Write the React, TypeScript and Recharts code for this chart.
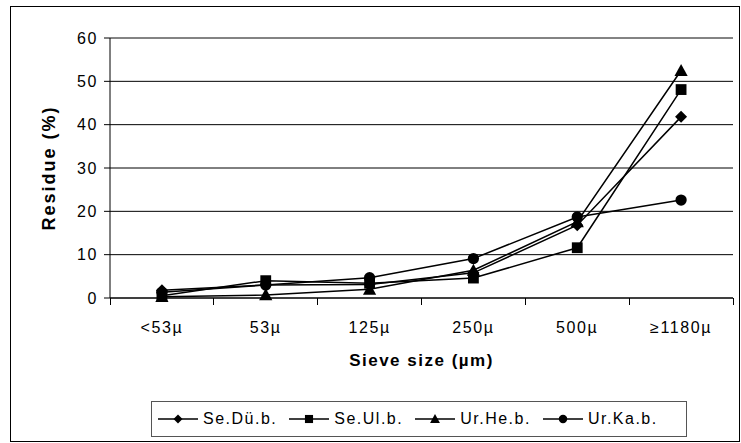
import React from 'react';
import {
    LineChart,
    Line,
    XAxis,
    YAxis,
    CartesianGrid,
    Legend,
    ReferenceLine
} from 'recharts';

const categories = ['<53µ', '53µ', '125µ', '250µ', '500µ', '≥1180µ'];
const seDub = [1.8, 3.0, 3.1, 5.8, 16.8, 41.8];
const seUlb = [0.5, 4.0, 3.4, 4.6, 11.6, 48.1];
const urHeb = [0.3, 0.7, 2.0, 6.4, 17.6, 52.5];
const urKab = [1.3, 3.0, 4.7, 9.1, 18.7, 22.6];
const yTicks = [0, 10, 20, 30, 40, 50, 60];

const seriesNames = ['Se.Dü.b.', 'Se.Ul.b.', 'Ur.He.b.', 'Ur.Ka.b.'];
const seriesValues = [seDub, seUlb, urHeb, urKab];
const seriesMarkers = ['diamond', 'square', 'triangle', 'circle'];

const data = categories.map((c, i) => {
    const row: Record<string, string | number> = { size: c };
    seriesNames.forEach((name, s) => {
        row[name] = seriesValues[s][i];
    });
    return row;
});

const FONT = '"Liberation Sans", Arial, sans-serif';
const PLOT_W = 741 - 110 - 8;

function marker(kind: string, cx: number, cy: number, s: number, key?: string | number) {
    if (kind === 'diamond') {
        return <path key={key} d={`M${cx},${cy - s * 0.5}L${cx + s * 0.5},${cy}L${cx},${cy + s * 0.5}L${cx - s * 0.5},${cy}Z`} fill="#000" />;
    }
    if (kind === 'square') {
        const h = s * 0.45;
        return <rect key={key} x={cx - h} y={cy - h} width={h * 2} height={h * 2} fill="#000" />;
    }
    if (kind === 'triangle') {
        return <path key={key} d={`M${cx},${cy - s * 0.55}L${cx + s * 0.55},${cy + s * 0.45}L${cx - s * 0.55},${cy + s * 0.45}Z`} fill="#000" />;
    }
    return <circle key={key} cx={cx} cy={cy} r={s * 0.47} fill="#000" />;
}

const makeDot = (kind: string) => (props: any) => {
    const { cx, cy, index } = props;
    if (cx == null || cy == null) return <g key={index} />;
    return marker(kind, cx, cy, 12, `${kind}-${index}`);
};

// tick marks sit between categories, like the original chart
const XTick = (props: any) => {
    const { x, y, payload, index } = props;
    const half = PLOT_W / categories.length / 2;
    return (
        <g>
            <line x1={x + half} x2={x + half} y1={y} y2={y + 7} stroke="#000" strokeWidth={1} shapeRendering="crispEdges" />
            {index === 0 && (
                <line x1={x - half} x2={x - half} y1={y} y2={y + 7} stroke="#000" strokeWidth={1} shapeRendering="crispEdges" />
            )}
            <text x={x} y={y + 35} textAnchor="middle" fontSize={16} letterSpacing={1.6} fontFamily={FONT} fill="#000">
                {payload.value}
            </text>
        </g>
    );
};

const YLabel = (props: any) => {
    const { viewBox } = props;
    const cy = viewBox.y + viewBox.height / 2;
    const cx = 49;
    return (
        <text
            x={cx}
            y={cy}
            transform={`rotate(-90, ${cx}, ${cy})`}
            textAnchor="middle"
            dominantBaseline="central"
            fontSize={18}
            letterSpacing={2}
            fontWeight="bold"
            fontFamily={FONT}
            fill="#000"
        >
            Residue (%)
        </text>
    );
};

const XLabel = (props: any) => {
    const { viewBox } = props;
    const cx = viewBox.x + viewBox.width / 2;
    return (
        <text x={cx} y={viewBox.y + 68} textAnchor="middle" fontSize={17} letterSpacing={1.5} fontWeight="bold" fontFamily={FONT} fill="#000">
            Sieve size (µm)
        </text>
    );
};

const renderLegend = () => (
    <div
        style={{
            border: '1px solid #555',
            boxSizing: 'border-box',
            height: 36,
            display: 'flex',
            alignItems: 'center',
            paddingLeft: 6,
            fontFamily: FONT,
            fontSize: 16,
            letterSpacing: 1.5,
            background: '#fff'
        }}
    >
        {seriesNames.map((name, i) => (
            <div key={name} style={{ display: 'flex', alignItems: 'center', marginRight: i < seriesNames.length - 1 ? 12 : 0 }}>
                <svg width={40} height={14} style={{ marginRight: 5 }}>
                    <line x1={0} x2={40} y1={7} y2={7} stroke="#000" strokeWidth={1.5} />
                    {marker(seriesMarkers[i], 20, 7, 9)}
                </svg>
                <span>{name}</span>
            </div>
        ))}
    </div>
);

export default function App() {
    return (
        <div style={{ position: 'absolute', left: 0, top: 0, width: 741, height: 443, background: '#fff' }}>
            <div
                style={{
                    position: 'absolute',
                    left: 10,
                    top: 6,
                    width: 730,
                    height: 436,
                    border: '1px solid #000',
                    boxSizing: 'border-box'
                }}
            />
            <LineChart
                width={741}
                height={443}
                data={data}
                margin={{ top: 38, right: 8, left: 0, bottom: 6 }}
                style={{ position: 'absolute', left: 0, top: 0 }}
            >
                <CartesianGrid vertical={false} stroke="#000" strokeWidth={1} />
                <XAxis
                    dataKey="size"
                    scale="band"
                    height={103}
                    axisLine={{ stroke: '#000' }}
                    tickLine={false}
                    tickSize={0}
                    tickMargin={0}
                    interval={0}
                    tick={<XTick />}
                    label={<XLabel />}
                />
                <YAxis
                    width={110}
                    domain={[0, 60]}
                    ticks={yTicks}
                    interval={0}
                    axisLine={{ stroke: '#000' }}
                    tickLine={{ stroke: '#000' }}
                    tickSize={6}
                    tickMargin={6}
                    tick={{ fontSize: 16, fontFamily: FONT, fill: '#000', letterSpacing: 1.6 }}
                    label={<YLabel />}
                />
                <YAxis
                    yAxisId="frame"
                    orientation="right"
                    width={0}
                    tick={false}
                    tickLine={false}
                    axisLine={{ stroke: '#888' }}
                />
                <ReferenceLine y={60} stroke="#888" />
                <Legend
                    verticalAlign="bottom"
                    content={renderLegend}
                    wrapperStyle={{ left: 151, width: 536 }}
                />
                {seriesNames.map((name, i) => (
                    <Line
                        key={name}
                        dataKey={name}
                        stroke="#000"
                        strokeWidth={1.5}
                        dot={makeDot(seriesMarkers[i])}
                        activeDot={false}
                        isAnimationActive={false}
                        legendType="none"
                    />
                ))}
            </LineChart>
        </div>
    );
}
